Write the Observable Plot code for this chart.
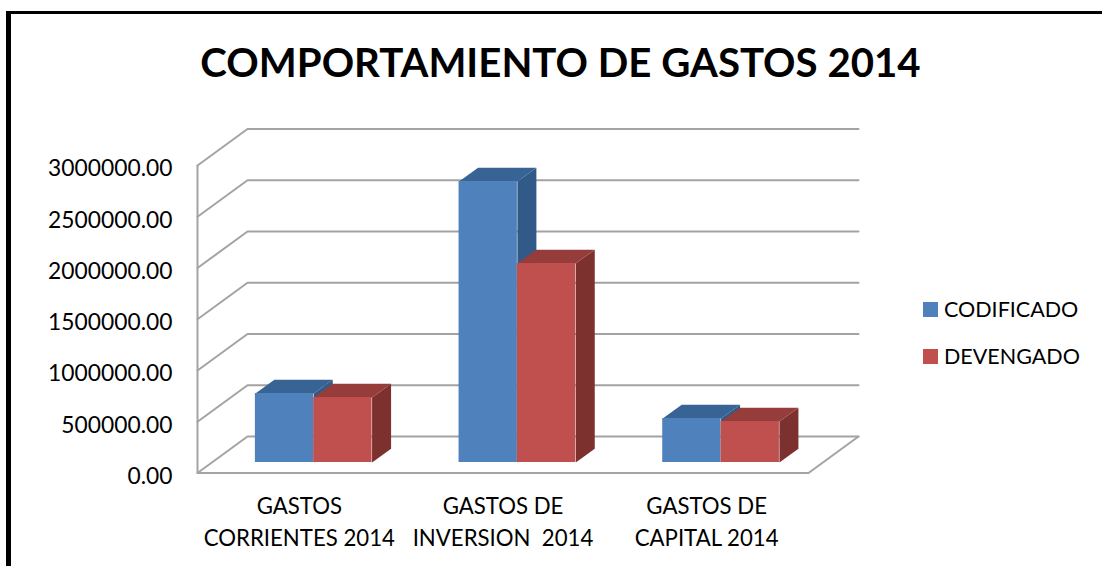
<!DOCTYPE html>
<html>
<head>
<meta charset="utf-8">
<script src="https://cdn.jsdelivr.net/npm/d3@7"></script>
<script src="https://cdn.jsdelivr.net/npm/@observablehq/plot@0.6"></script>
<style>
  html, body { margin: 0; padding: 0; background: #fff; overflow: hidden; }
  #page { position: relative; width: 1102px; height: 566px; font-family: Lato, "Open Sans", sans-serif; color: #000; }
  #frame { position: absolute; left: 6px; top: 11px; right: 0; bottom: 0; border-left: 5px solid #000; border-top: 3px solid #000; }
  #title { position: absolute; left: 0; width: 1121px; top: 35px; text-align: center; font-size: 40.2px; font-weight: 700; line-height: 54px; white-space: nowrap; }
  .key { position: absolute; left: 923px; display: flex; align-items: center; font-size: 21.5px; line-height: 26px; white-space: nowrap; }
  .key i { display: block; width: 15px; height: 15px; margin-right: 6px; }
  #chart { position: absolute; left: 0; top: 0; }
  #chart svg text { white-space: pre; }
</style>
</head>
<body>
<div id="page">
  <div id="frame"></div>
  <div id="chart"></div>
  <div id="title"></div>
  <div id="legend"></div>
</div>
<script>
const titleText = "COMPORTAMIENTO DE GASTOS 2014";
const categories = ["GASTOS\nCORRIENTES 2014", "GASTOS DE\nINVERSION  2014", "GASTOS DE\nCAPITAL 2014"];
const seriesNames = ["CODIFICADO", "DEVENGADO"];
const codificado = [673000, 2741000, 429000];
const devengado = [634000, 1941000, 400000];
const seriesValues = [codificado, devengado];
const tickValues = [0, 500000, 1000000, 1500000, 2000000, 2500000, 3000000];
const frontColors = ["#4F81BD", "#C0504D"];
const topColors = ["#386395", "#963D3B"];
const sideColors = ["#325A89", "#7D312F"];
const gridColor = "#A3A3A3";

// Oblique projection, in data units: one unit of depth moves a point this far.
const depthX = 0.2455, depthY = 356000;
const gap = 0.2135, barWidth = 0.2865;   // along x, one category = 1
const barNear = 0.288, barFar = 0.668;   // bar depth range on the floor

const P = (x, y, d) => ({x: x + d * depthX, y: y + d * depthY});

const gridPts = tickValues.flatMap((t) => [
  {...P(0, t, 0), z: t}, {...P(0, t, 1), z: t}, {...P(3, t, 1), z: t}
]);
const floorPts = [P(0, 0, 0), P(3, 0, 0), P(3, 0, 1)];

const faces = [], fronts = [];
categories.forEach((_, c) => {
  seriesValues.forEach((vals, s) => {
    const x1 = c + gap + s * barWidth, x2 = x1 + barWidth, v = vals[c];
    const add = (name, fill, pts) =>
      pts.forEach((p) => faces.push({...p, z: `${c}-${s}-${name}`, fill}));
    add("side", sideColors[s], [P(x2, 0, barNear), P(x2, 0, barFar), P(x2, v, barFar), P(x2, v, barNear)]);
    add("top", topColors[s], [P(x1, v, barNear), P(x2, v, barNear), P(x2, v, barFar), P(x1, v, barFar)]);
    const a = P(x1, 0, barNear), b = P(x2, v, barNear);
    fronts.push({x1: a.x, x2: b.x, y1: a.y, y2: b.y, fill: frontColors[s]});
  });
});

const chart = Plot.plot({
  width: 1102,
  height: 566,
  marginLeft: 197,
  marginRight: 294,
  marginTop: 165,
  marginBottom: 93.5,
  style: {background: "transparent", fontFamily: "Lato, 'Open Sans', sans-serif", color: "#000", overflow: "visible"},
  x: {domain: [0, 3], range: [197, 808]},
  y: {domain: [0, 3000000], range: [472.5, 165]},
  color: {type: "identity"},
  marks: [
    Plot.line(gridPts, {x: "x", y: "y", z: "z", stroke: gridColor, strokeWidth: 2, clip: false}),
    Plot.line(floorPts, {x: "x", y: "y", stroke: gridColor, strokeWidth: 2}),
    Plot.ruleX([0], {y1: 0, y2: 3000000, stroke: gridColor, strokeWidth: 2}),
    Plot.line(faces, {x: "x", y: "y", z: "z", fill: (d) => d.fill, stroke: "none"}),
    Plot.rect(fronts, {x1: "x1", x2: "x2", y1: "y1", y2: "y2", fill: (d) => d.fill, inset: 0}),
    Plot.axisY({
      ticks: tickValues, tickFormat: d3.format(".2f"), tickSize: 0, tickPadding: 25,
      fontSize: 22.8, fontWeight: 400, dy: 3.5, label: null
    }),
    Plot.axisX({
      ticks: [0.5, 1.5, 2.5], tickFormat: (t) => categories[Math.floor(t)], tickSize: 0, tickPadding: 18,
      fontSize: 22.2, lineHeight: 1.46, label: null
    })
  ]
});
document.getElementById("chart").appendChild(chart);
document.getElementById("title").textContent = titleText;

const legendTops = [296, 343];
seriesNames.forEach((name, i) => {
  const row = document.createElement("div");
  row.className = "key";
  row.style.top = legendTops[i] + "px";
  const sw = document.createElement("i");
  sw.style.background = frontColors[i];
  const label = document.createElement("span");
  label.textContent = name;
  row.append(sw, label);
  document.getElementById("legend").appendChild(row);
});
</script>
</body>
</html>
